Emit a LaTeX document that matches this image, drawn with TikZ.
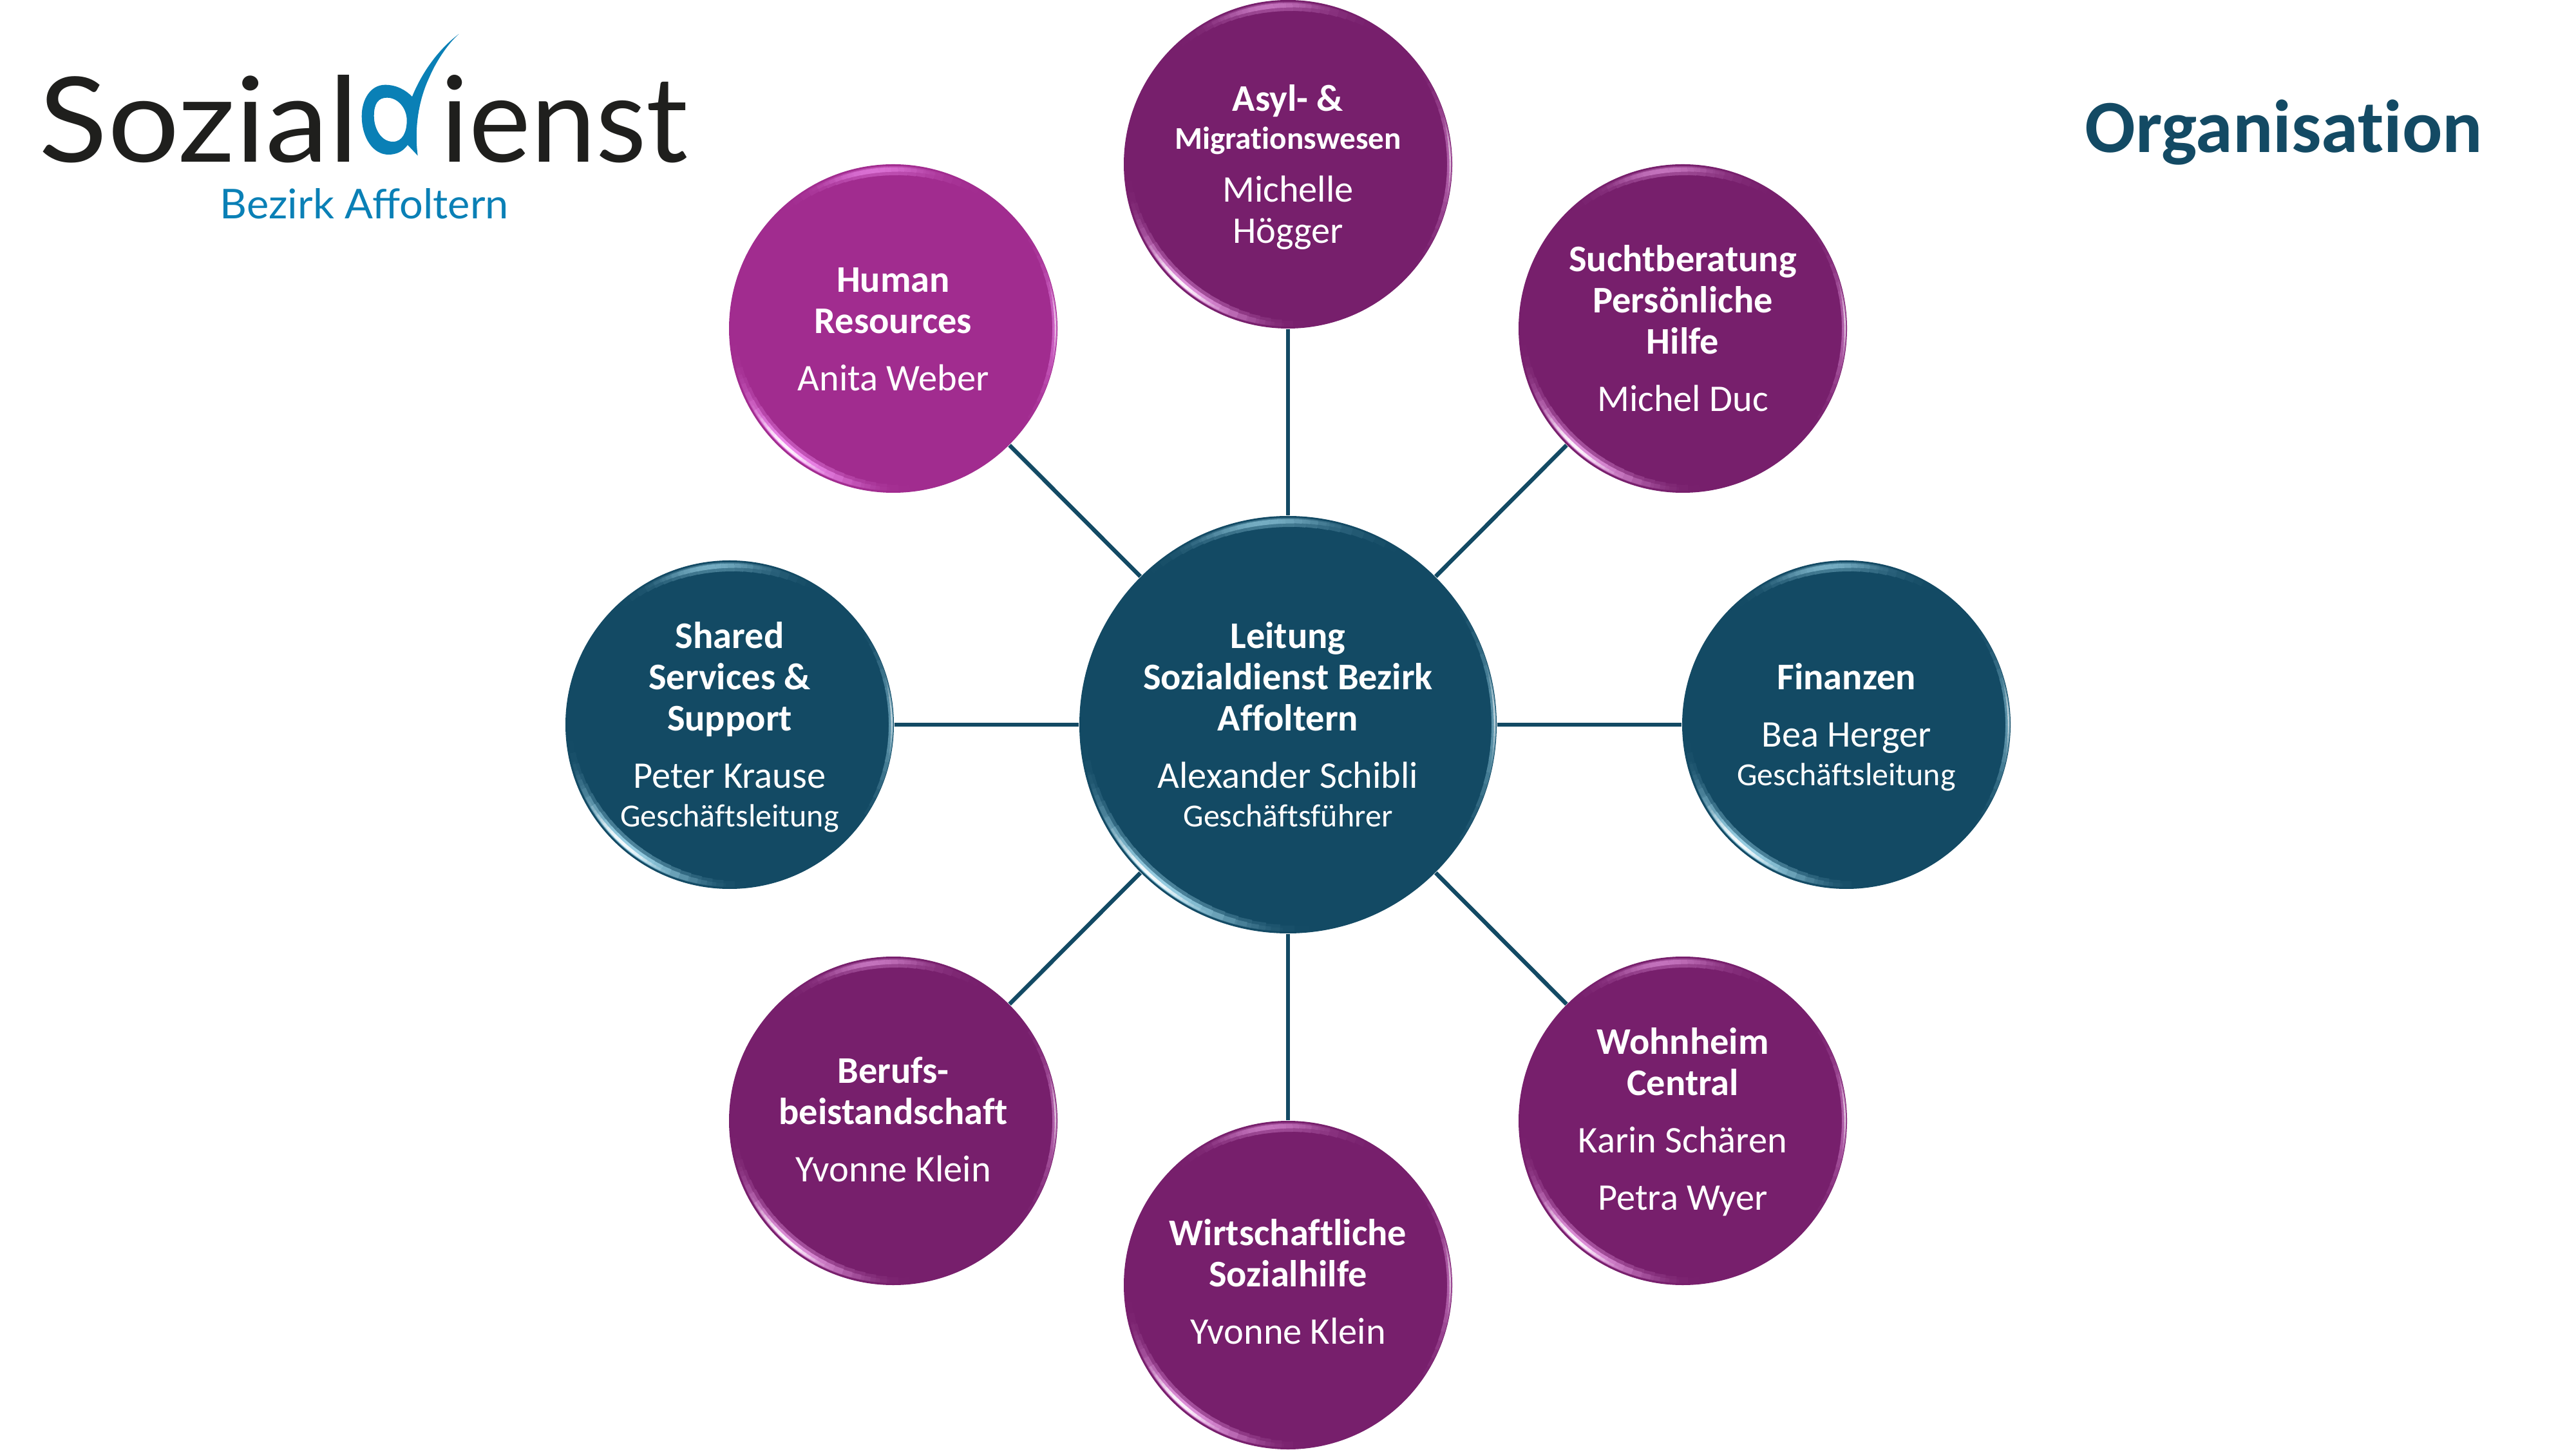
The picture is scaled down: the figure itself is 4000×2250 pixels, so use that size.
\documentclass[tikz,border=0pt]{standalone}
\usepackage{fontspec}
\setmainfont[Ligatures=NoCommon]{Carlito}
\newfontfamily\logofont{Lato}
\usetikzlibrary{calc}
\definecolor{navy}{HTML}{134A64}
\definecolor{plum}{HTML}{771F6C}
\definecolor{orchid}{HTML}{A12C8F}
\definecolor{logoblue}{HTML}{0A80B6}
\definecolor{logoblack}{HTML}{1F1F1D}
\definecolor{navyglow}{HTML}{B4ECFF}
\definecolor{plumglow}{HTML}{F4A8F0}
\definecolor{orchidglow}{HTML}{FF9CFF}
\newcommand{\tb}[1]{\textbf{#1}}
\newcommand{\smalltxt}[1]{{\fontsize{12.5}{16}\selectfont #1}}
\newcommand{\smallbold}[1]{{\fontsize{12.3}{16}\selectfont\bfseries #1}}
\newcommand{\tp}[1][14pt]{\rule{0pt}{#1}}
\newcommand{\bt}{\rule[-4pt]{0pt}{4pt}}
% one highlight along the inside of a circle's rim
\newcommand{\rimarc}[8]{% name, radius pt, colour, start, end, max opacity, width pt, inset pt
  \foreach \t in {0,...,23}{
    \pgfmathsetmacro{\pr}{sin(180*(\t+0.5)/24)}
    \pgfmathsetmacro{\ang}{#4+(#5-#4)*\t/24}
    \pgfmathsetmacro{\wid}{#7*(0.35+0.65*\pr)}
    \pgfmathsetmacro{\rad}{#2-#8-\wid/2}
    \pgfmathsetmacro{\op}{#6*\pr*\pr}
    \draw[draw=#3,draw opacity=\op,line width=\wid pt]
      ([shift={(\ang:\rad pt)}]#1.center) arc[start angle=\ang,delta angle={(#5-#4)/24},radius=\rad pt];
  }
}
\newcommand{\gloss}[3]{%
  % lower left: soft halo, then a bright core
  \rimarc{#1}{#2}{#3}{182}{280}{0.35}{4.2}{0.7}
  \rimarc{#1}{#2}{#3}{190}{272}{0.7}{2.6}{0.9}
  \rimarc{#1}{#2}{white}{205}{250}{0.9}{1.2}{1.2}
  % top
  \rimarc{#1}{#2}{#3}{55}{135}{0.3}{3.6}{0.7}
  \rimarc{#1}{#2}{#3}{70}{125}{0.45}{1.8}{1.2}
  % right
  \rimarc{#1}{#2}{#3}{-40}{40}{0.45}{1.8}{0.2}
  \rimarc{#1}{#2}{white}{-15}{20}{0.6}{0.6}{0.5}
}
\tikzset{
  x=0.25pt,y=0.25pt,
  disc/.style={circle,draw=none,inner sep=0pt,text=white,align=center,
    font=\fontsize{14.6}{16}\selectfont,minimum size=127.5pt},
  hubdisc/.style={disc,fill=navy,minimum size=162pt},
  navydisc/.style={disc,fill=navy},
  plumdisc/.style={disc,fill=plum},
  orchiddisc/.style={disc,fill=orchid},
  link/.style={draw=navy,line width=1.6pt},
  logotext/.style={inner sep=0pt,anchor=base west,text=logoblack,font=\logofont},
}
\begin{document}
\begin{tikzpicture}
\useasboundingbox (0,0) rectangle (4000,2250);

\node[hubdisc] (hub) at (2000,1125) {\tp\tb{Leitung}\\\tb{Sozialdienst Bezirk}\\\tb{Affoltern}\\[6.3pt]Alexander Schibli\\[-1pt]\smalltxt{Geschäftsführer}\bt};
\node[plumdisc] (asyl) at (2000,1995) {\tp\tb{Asyl- \&}\\[-1.2pt]\smallbold{Migrationswesen}\\[4.3pt]Michelle\\Högger\bt};
\node[plumdisc] (sucht) at (2613,1740) {\tp\tb{Suchtberatung}\\\tb{Persönliche}\\\tb{Hilfe}\\[6.3pt]Michel Duc\bt};
\node[navydisc] (fin) at (2867,1125) {\tp\tb{Finanzen}\\[6.3pt]Bea Herger\\[-1pt]\smalltxt{Geschäftsleitung}\bt};
\node[plumdisc] (wohn) at (2613,510) {\tp[12.8pt]\tb{Wohnheim}\\\tb{Central}\\[6.3pt]Karin Schären\\[6.3pt]Petra Wyer\bt};
\node[plumdisc] (wirt) at (2000,255) {\tp[11.5pt]\tb{Wirtschaftliche}\\\tb{Sozialhilfe}\\[6.3pt]Yvonne Klein\bt};
\node[plumdisc] (beruf) at (1387,510) {\tp[12.8pt]\tb{Berufs-}\\\tb{beistandschaft}\\[6.3pt]Yvonne Klein\bt};
\node[navydisc] (shared) at (1133,1125) {\tp\tb{Shared}\\\tb{Services \&}\\\tb{Support}\\[6.3pt]Peter Krause\\[-1pt]\smalltxt{Geschäftsleitung}\bt};
\node[orchiddisc] (hr) at (1387,1740) {\tp\tb{Human}\\\tb{Resources}\\[6.3pt]Anita Weber\bt};

\draw[link] (hub) -- (asyl);
\draw[link] (hub) -- (sucht);
\draw[link] (hub) -- (fin);
\draw[link] (hub) -- (wohn);
\draw[link] (hub) -- (wirt);
\draw[link] (hub) -- (beruf);
\draw[link] (hub) -- (shared);
\draw[link] (hub) -- (hr);

\gloss{hub}{81}{navyglow}
\gloss{fin}{63.75}{navyglow}
\gloss{shared}{63.75}{navyglow}
\gloss{asyl}{63.75}{plumglow}
\gloss{sucht}{63.75}{plumglow}
\gloss{wohn}{63.75}{plumglow}
\gloss{wirt}{63.75}{plumglow}
\gloss{beruf}{63.75}{plumglow}
\gloss{hr}{63.75}{orchidglow}

\node[inner sep=0pt,anchor=base west,text=navy,font=\fontsize{29.1}{32}\selectfont\bfseries] (title) at (3237,2013) {Organisation};

% logo
\node[logotext] (logoa) at (60,1998) {\resizebox{124pt}{33.75pt}{Sozial}};
\node[logotext] (logob) at (684,1998) {\resizebox{96pt}{33.75pt}{ienst}};
\fill[logoblue,even odd rule]
  (712.7,2197.3) .. controls (676,2170) and (652,2130) .. (640,2100)
  .. controls (630,2110) and (616,2118.3) .. (598,2118.3)
  .. controls (575,2118.3) and (561.7,2095) .. (561.7,2070)
  .. controls (561.7,2035) and (580,2010) .. (603,2010)
  .. controls (616,2010) and (626,2015) .. (633,2025)
  -- (648.7,2008.3)
  .. controls (643,2050) and (650,2095) .. (666.7,2130)
  .. controls (675,2150) and (693,2180) .. (712.7,2197.3) -- cycle
  (580.7,2070) .. controls (580.7,2090) and (588,2098.3) .. (601,2098.3)
  .. controls (618,2098.3) and (631.7,2082) .. (631.7,2063)
  .. controls (631.7,2045) and (625,2030) .. (610,2030)
  .. controls (592,2030) and (580.7,2050) .. (580.7,2070) -- cycle;
\node[inner sep=0pt,anchor=base west,text=logoblue,font=\logofont] (logoc) at (341,1910) {\resizebox{112pt}{11.75pt}{Bezirk Affoltern}};
\end{tikzpicture}
\end{document}
